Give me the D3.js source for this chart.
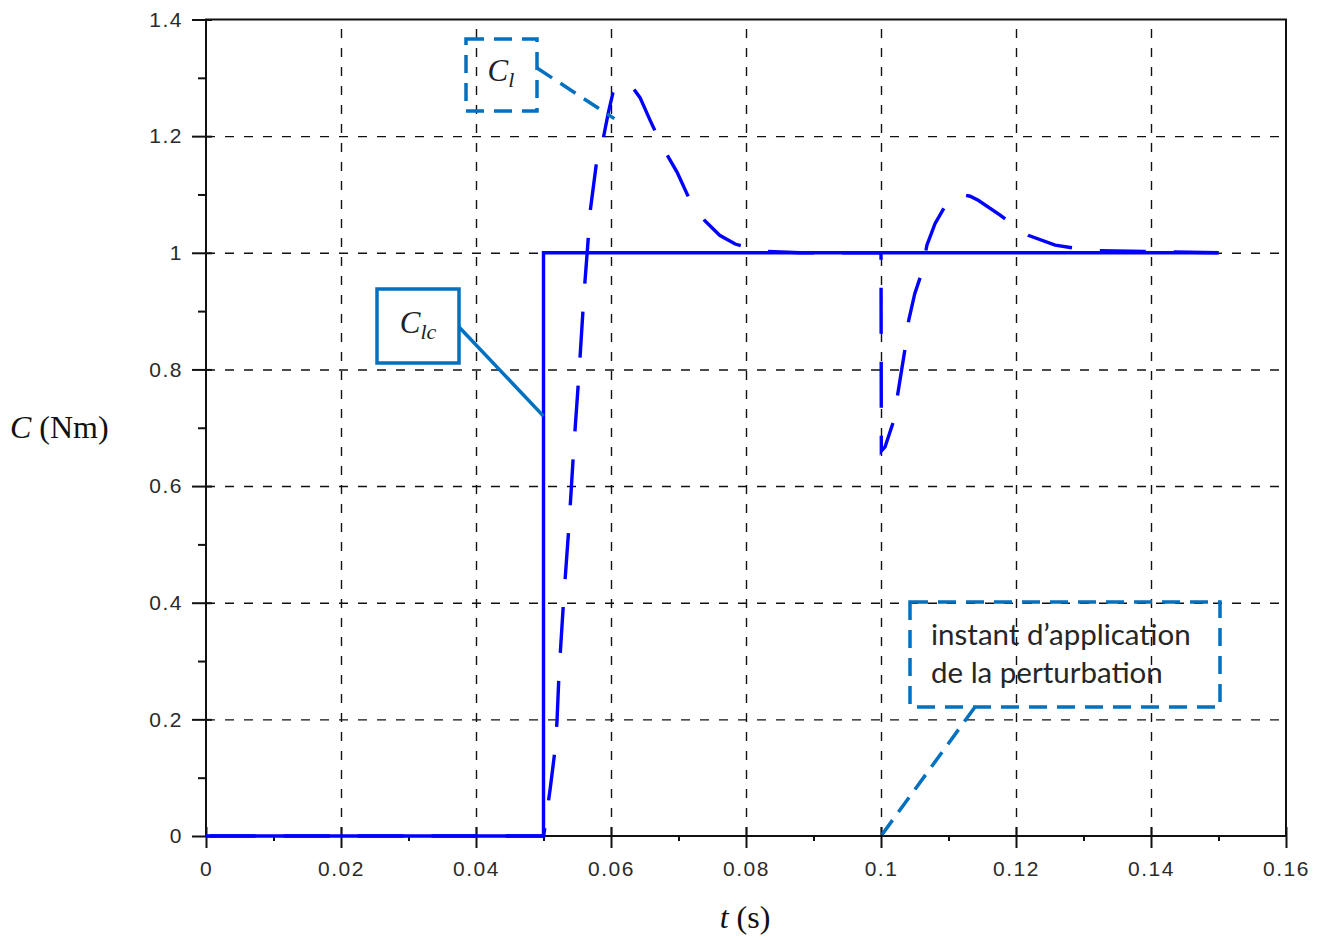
<!DOCTYPE html>
<meta charset="utf-8">
<style>
body { margin: 0; background: #fff; }
.grid line { stroke: #111; stroke-width: 1.4px; stroke-dasharray: 9,10; }
.grid path { stroke-width: 0; }
.tick text { font-family: "Liberation Sans", Arial, sans-serif; font-size: 21px; fill: #2a2a2a; letter-spacing: 1.5px; }
.axis path, .axis line { stroke: #111; stroke-width: 2px; }
.ann { fill: none; stroke: #0070c0; stroke-width: 3.5px; }
.ann.dash { stroke-dasharray: 18,10; }
</style>
<body>
<script src="https://d3js.org/d3.v7.min.js"></script>
<script>

// time axis ticks (s) and torque ticks (Nm)
var xTicks = [0, 0.02, 0.04, 0.06, 0.08, 0.1, 0.12, 0.14, 0.16];
var xMinor = [0.01, 0.03, 0.05, 0.07, 0.09, 0.11, 0.13, 0.15];
var yTicks = [0, 0.2, 0.4, 0.6, 0.8, 1, 1.2, 1.4];
var yMinor = [0.1, 0.3, 0.5, 0.7, 0.9, 1.1, 1.3];

// Clc : consigne (step)
var clcT = [0, 0.05, 0.05, 0.15];
var clcV = [0, 0, 1, 1];

var clT = [0, 0.05, 0.0502, 0.0510, 0.0517, 0.0520, 0.0523, 0.0530, 0.0538, 0.0545, 0.0553, 0.0560,
           0.0566, 0.0569, 0.0578, 0.0588, 0.0596, 0.0603, 0.0613, 0.0621, 0.0631, 0.0643, 0.0658,
           0.0677, 0.0698, 0.0717, 0.0739, 0.0761, 0.0784, 0.0821, 0.088, 0.1,
           0.10005, 0.1006, 0.1018, 0.1024, 0.1036, 0.1041, 0.1050, 0.1061, 0.1068, 0.1080, 0.1095,
           0.1107, 0.1120, 0.1132, 0.1144, 0.1176, 0.1199, 0.1218, 0.1258, 0.1310, 0.15];
var clV = [0, 0, 0.014, 0.082, 0.147, 0.197, 0.279, 0.408, 0.536, 0.668, 0.80, 0.929,
           1.02, 1.07, 1.15, 1.193, 1.24, 1.275, 1.29, 1.292, 1.285, 1.266, 1.227,
           1.18, 1.138, 1.09, 1.055, 1.03, 1.015, 1.003, 1.0, 1.0,
           0.66, 0.667, 0.709, 0.752, 0.838, 0.884, 0.93, 0.968, 1.013, 1.05, 1.08,
           1.095, 1.1, 1.097, 1.09, 1.065, 1.045, 1.03, 1.013, 1.004, 1.0];

var W = 1326, H = 939;
var svg = d3.select("body").append("svg")
    .attr("width", W)
    .attr("height", H);

var x = d3.scaleLinear().domain([0, 0.16]).range([206, 1286]);
var y = d3.scaleLinear().domain([0, 1.4]).range([836, 19.5]);

// dashed grid
svg.append("g")
    .attr("class", "grid")
    .attr("transform", "translate(0," + y(0) + ")")
    .call(d3.axisBottom(x).tickValues(xTicks.slice(1, -1)).tickSize(-(y(0) - y(1.4))).tickFormat(""));
svg.append("g")
    .attr("class", "grid")
    .attr("transform", "translate(" + x(0) + ",0)")
    .call(d3.axisLeft(y).tickValues(yTicks.slice(1, -1)).tickSize(-(x(0.16) - x(0))).tickFormat(""));

// frame
svg.append("rect")
    .attr("x", x(0)).attr("y", y(1.4))
    .attr("width", x(0.16) - x(0)).attr("height", y(0) - y(1.4))
    .attr("fill", "none").attr("stroke", "#111").attr("stroke-width", 2);

// x axis: major ticks both sides, minor below
var fmt = function(d) { return d3.format("")(+d.toFixed(2)); };
var gx = svg.append("g")
    .attr("class", "axis")
    .attr("transform", "translate(0," + y(0) + ")")
    .call(d3.axisBottom(x).tickValues(xTicks).tickSize(12).tickPadding(13).tickFormat(fmt));
gx.select(".domain").remove();
svg.append("g").attr("class", "axis")
    .attr("transform", "translate(0," + y(0) + ")")
    .call(d3.axisTop(x).tickValues(xTicks).tickSize(9).tickFormat(""))
    .select(".domain").remove();
svg.append("g").attr("class", "axis")
    .attr("transform", "translate(0," + y(0) + ")")
    .call(d3.axisBottom(x).tickValues(xMinor).tickSize(5).tickFormat(""))
    .select(".domain").remove();

// y axis
var gy = svg.append("g")
    .attr("class", "axis")
    .attr("transform", "translate(" + x(0) + ",0)")
    .call(d3.axisLeft(y).tickValues(yTicks).tickSize(14).tickPadding(9).tickFormat(fmt));
gy.select(".domain").remove();
svg.append("g").attr("class", "axis")
    .attr("transform", "translate(" + x(0) + ",0)")
    .call(d3.axisRight(y).tickValues(yTicks).tickSize(6).tickFormat(""))
    .select(".domain").remove();
svg.append("g").attr("class", "axis")
    .attr("transform", "translate(" + x(0) + ",0)")
    .call(d3.axisLeft(y).tickValues(yMinor).tickSize(8).tickFormat(""))
    .select(".domain").remove();

// curves
var line = d3.line()
    .x(function(d) { return x(d[0]); })
    .y(function(d) { return y(d[1]); });

svg.append("path")
    .datum(d3.zip(clcT, clcV))
    .attr("d", line)
    .attr("fill", "none")
    .attr("stroke", "#0000ff")
    .attr("stroke-width", 3.4);

svg.append("path")
    .datum(d3.zip(clT, clV))
    .attr("d", line)
    .attr("fill", "none")
    .attr("stroke", "#0000ff")
    .attr("stroke-width", 3.4)
    .attr("stroke-dasharray", "46,28")
    .attr("stroke-dashoffset", 70.5);

// axis titles
var serif = "'Liberation Serif', 'DejaVu Serif', serif";
var yt = svg.append("text")
    .attr("x", 10).attr("y", 438)
    .attr("font-family", serif).attr("font-size", 32).attr("fill", "#111");
yt.append("tspan").attr("font-style", "italic").text("C");
yt.append("tspan").text(" (Nm)");

var xt = svg.append("text")
    .attr("x", 745).attr("y", 928)
    .attr("text-anchor", "middle")
    .attr("font-family", serif).attr("font-size", 32).attr("fill", "#111");
xt.append("tspan").attr("font-style", "italic").text("t");
xt.append("tspan").text(" (s)");

// annotation: Cl
svg.append("rect").attr("class", "ann dash")
    .attr("x", 466).attr("y", 39).attr("width", 71).attr("height", 72);
svg.append("line").attr("class", "ann dash")
    .attr("x1", 537).attr("y1", 68).attr("x2", x(0.0605)).attr("y2", y(1.23));
var t1 = svg.append("text").attr("x", 501).attr("y", 81).attr("text-anchor", "middle")
    .attr("font-family", serif).attr("font-style", "italic").attr("font-size", 31).attr("fill", "#222");
t1.append("tspan").text("C");
t1.append("tspan").attr("font-size", 22).attr("dy", 6).text("l");

// annotation: Clc
svg.append("rect").attr("class", "ann")
    .attr("x", 377).attr("y", 289).attr("width", 82).attr("height", 74);
svg.append("line").attr("class", "ann")
    .attr("x1", 459).attr("y1", 327).attr("x2", x(0.05)).attr("y2", y(0.72));
var t2 = svg.append("text").attr("x", 418).attr("y", 333).attr("text-anchor", "middle")
    .attr("font-family", serif).attr("font-style", "italic").attr("font-size", 31).attr("fill", "#222");
t2.append("tspan").text("C");
t2.append("tspan").attr("font-size", 22).attr("dy", 6).text("lc");

// annotation: perturbation instant
svg.append("rect").attr("class", "ann dash")
    .attr("x", 910).attr("y", 602).attr("width", 310).attr("height", 105);
svg.append("line").attr("class", "ann dash")
    .attr("x1", 975).attr("y1", 707).attr("x2", x(0.1)).attr("y2", y(0));
var t3 = svg.append("text")
    .attr("font-family", "Lato, 'Open Sans', sans-serif").attr("font-size", 29.5).attr("fill", "#262626");
t3.append("tspan").attr("x", 931).attr("y", 645).text("instant d\u2019application");
t3.append("tspan").attr("x", 931).attr("y", 683).text("de la perturbation");

</script>
</body>
